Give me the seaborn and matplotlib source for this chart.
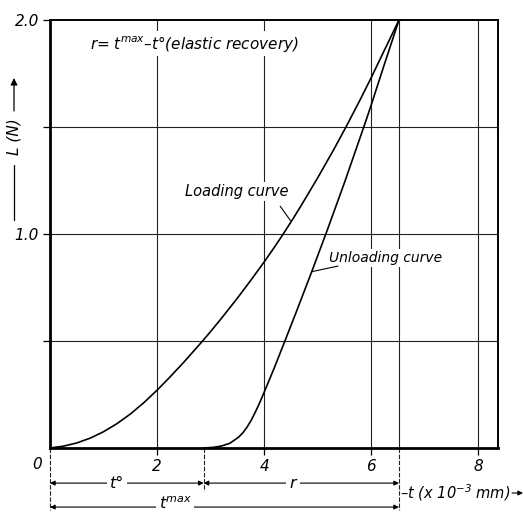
import matplotlib
matplotlib.use("Agg")
import matplotlib.pyplot as plt
import matplotlib.transforms as mtransforms
import seaborn as sns
import pandas as pd

# ---- data ----
load_t = [0.0, 0.25, 0.5, 0.75, 1.0, 1.25, 1.5, 1.75, 2.0, 2.25, 2.5, 2.84, 3.0, 3.2, 3.5,
          3.75, 4.0, 4.2, 4.36, 4.55, 4.7, 5.0, 5.3, 5.53, 5.8, 6.0, 6.25, 6.52]
load_L = [0.0, 0.0085, 0.0235, 0.046, 0.076, 0.1135, 0.1585, 0.211, 0.27, 0.334, 0.401, 0.497,
          0.544, 0.605, 0.70, 0.783, 0.869, 0.941, 1.001, 1.075, 1.136, 1.262, 1.394, 1.50,
          1.63, 1.73, 1.86, 2.0]

unload_t = [2.87, 3.05, 3.2, 3.36, 3.52, 3.6, 3.68, 3.76, 3.84, 3.92, 4.0, 4.18, 4.37, 4.6, 4.89,
            5.18, 5.5, 5.89, 6.0, 6.25, 6.52]
unload_L = [0.0, 0.003, 0.009, 0.022, 0.05, 0.07, 0.097, 0.13, 0.17, 0.213, 0.26, 0.368, 0.488,
            0.635, 0.824, 1.018, 1.239, 1.52, 1.602, 1.795, 2.0]

x_ticks = [2, 4, 6, 8]
x_ticklabels = ["2", "4", "6", "8"]
y_ticks = [0.5, 1.0, 1.5, 2.0]
y_ticklabels = ["", "1.0", "", "2.0"]
h_grid = [0.5, 1.0, 1.5]
v_grid = [2, 4, 6, 8]

df = pd.concat([
    pd.DataFrame({"t": load_t, "L": load_L, "curve": "Loading curve"}),
    pd.DataFrame({"t": unload_t, "L": unload_L, "curve": "Unloading curve"}),
])

t0 = unload_t[0]
tmax = load_t[-1]

sns.set_theme(style="white")
plt.rcParams["font.family"] = ["DejaVu Sans"]
plt.rcParams["font.style"] = "italic"
plt.rcParams["mathtext.fontset"] = "dejavusans"
plt.rcParams["text.color"] = "black"
plt.rcParams["xtick.color"] = "black"
plt.rcParams["ytick.color"] = "black"

fig = plt.figure(figsize=(5.23, 5.12), dpi=100)
ax = fig.add_axes([50 / 523, 1 - 448 / 512, (498 - 50) / 523, (448 - 20) / 512])

for y in h_grid:
    ax.axhline(y, color="#222222", lw=0.8, zorder=1)
for x in v_grid:
    ax.axvline(x, color="#222222", lw=0.8, zorder=1)
ax.axvline(tmax, color="#222222", lw=0.8, zorder=1)

sns.lineplot(data=df, x="t", y="L", units="curve", estimator=None, sort=False,
             color="black", lw=1.2, ax=ax, zorder=4, legend=False,
             solid_joinstyle="round")

ax.set_xlim(0, 8.37)
ax.set_ylim(0, 2.0)
ax.set_xlabel("")
ax.set_ylabel("")
ax.set_xticks(x_ticks)
ax.set_xticklabels(x_ticklabels, fontsize=11, style="italic", color="black")
ax.set_yticks(y_ticks)
ax.set_yticklabels(y_ticklabels, fontsize=11, style="italic", color="black")
ax.tick_params(axis="both", direction="out", length=5, width=0.9, color="black",
               labelcolor="black", bottom=True, left=True)
ax.tick_params(axis="x", pad=3)
ax.tick_params(axis="y", pad=3)

for side in ["left", "bottom"]:
    ax.spines[side].set_linewidth(2.0)
    ax.spines[side].set_color("black")
for side in ["top", "right"]:
    ax.spines[side].set_linewidth(1.4)
    ax.spines[side].set_color("black")

ax.annotate("0", xy=(0, 0), xytext=(-9, -12), textcoords="offset points",
            ha="center", va="center", fontsize=11, style="italic", annotation_clip=False)

bbox = dict(facecolor="white", edgecolor="none", pad=1.5)
ax.text(0.75, 1.89, r"r= t$^{max}$–t°(elastic recovery)", fontsize=11, style="italic",
        ha="left", va="center", bbox=bbox, zorder=3)

ax.text(3.48, 1.197, "Loading curve", fontsize=10.5, style="italic",
        ha="center", va="center", bbox=bbox, zorder=3)
ax.plot([4.30, 4.50], [1.13, 1.06], color="black", lw=0.8, zorder=4)

ax.text(6.27, 0.887, "Unloading curve", fontsize=10, style="italic",
        ha="center", va="center", bbox=bbox, zorder=3)
ax.plot([5.38, 4.89], [0.85, 0.824], color="black", lw=0.8, zorder=4)

# dimension lines below the axis
trans = mtransforms.blended_transform_factory(ax.transData, ax.transAxes)
row1 = -0.082
row2 = -0.138
ext = dict(color="#222222", lw=0.8, ls=(0, (4, 1.5)), transform=trans, clip_on=False)
ax.plot([0, 0], [0, -0.145], **ext)
ax.plot([t0, t0], [0, -0.10], **ext)
ax.plot([tmax, tmax], [0, -0.145], **ext)

arrow = dict(arrowstyle="<|-|>", color="black", lw=0.8, mutation_scale=7, shrinkA=0, shrinkB=0)
ax.annotate("", xy=(0, row1), xytext=(t0, row1), xycoords=trans, textcoords=trans,
            arrowprops=arrow, annotation_clip=False)
ax.annotate("", xy=(t0, row1), xytext=(tmax, row1), xycoords=trans, textcoords=trans,
            arrowprops=arrow, annotation_clip=False)
ax.annotate("", xy=(0, row2), xytext=(tmax, row2), xycoords=trans, textcoords=trans,
            arrowprops=arrow, annotation_clip=False)
ax.text(1.25, row1, "t°", transform=trans, fontsize=11.5, style="italic",
        ha="center", va="center", bbox=dict(facecolor="white", edgecolor="none", pad=2),
        clip_on=False, zorder=5)
ax.text(4.54, row1, "r", transform=trans, fontsize=11.5, style="italic",
        ha="center", va="center", bbox=dict(facecolor="white", edgecolor="none", pad=3),
        clip_on=False, zorder=5)
ax.text(2.34, row2 + 0.008, r"t$^{max}$", transform=trans, fontsize=11.5, style="italic",
        ha="center", va="center", bbox=dict(facecolor="white", edgecolor="none", pad=2),
        clip_on=False, zorder=5)

# x axis label with arrow
fig.text(400 / 523, 19 / 512, r"–t (x 10$^{-3}$ mm)", fontsize=10.5, style="italic",
         ha="left", va="center")
ax.annotate("", xy=(523, 19), xytext=(512, 19), xycoords="figure pixels",
            textcoords="figure pixels",
            arrowprops=dict(arrowstyle="-|>", color="black", lw=0.8, mutation_scale=7,
                            shrinkA=0, shrinkB=0), annotation_clip=False)

# y axis label with arrow
fig.text(14 / 523, 375 / 512, "L (N)", fontsize=11, style="italic", rotation=90,
         ha="center", va="center")
fig.add_artist(plt.Line2D([14 / 523, 14 / 523], [292 / 512, 347 / 512], color="black", lw=0.9))
ax.annotate("", xy=(14, 434), xytext=(14, 401), xycoords="figure pixels",
            textcoords="figure pixels",
            arrowprops=dict(arrowstyle="-|>", color="black", lw=0.9, mutation_scale=10,
                            shrinkA=0, shrinkB=0), annotation_clip=False)

fig.savefig("out.png", dpi=100)
